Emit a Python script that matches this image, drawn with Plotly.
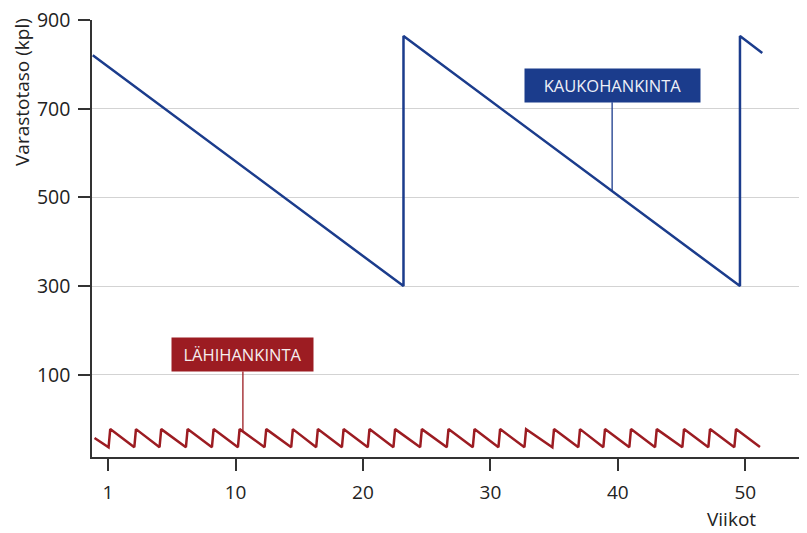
import plotly.graph_objects as go

# Blue series (long-distance sourcing) vertices: weeks and stock level
kauko_x = [-1.2, 23.18, 23.18, 49.58, 49.58, 51.33]
kauko_y = [821, 300, 864, 300, 864, 826]

# Red series (local sourcing) sawtooth: low points (week) and peaks just after
lahi_low_x = [0.04, 2.06, 4.04, 6.11, 8.15, 10.19, 12.28, 14.37, 16.33, 18.35,
              20.38, 22.39, 24.49, 26.58, 28.62, 30.63, 32.67, 34.86, 36.9, 38.86,
              40.9, 42.92, 45.06, 47.1, 49.14]
lahi_high_x = [0.17, 2.19, 4.17, 6.24, 8.28, 10.32, 12.41, 14.5, 16.46, 18.48,
               20.51, 22.52, 24.62, 26.71, 28.75, 30.76, 32.8, 34.99, 37.03, 38.99,
               41.03, 43.05, 45.19, 47.23, 49.27]
lahi_low = -63.5
lahi_high = -22.6
lahi_start = (-1.06, -42.7)
lahi_end = (51.15, -62.7)

x_tickvals = [0, 10, 20, 30, 40, 50]
x_ticktext = ["1", "10", "20", "30", "40", "50"]
y_tickvals = [100, 300, 500, 700, 900]

BLUE = "#1b3c8c"
RED = "#9c1c22"
FONT = "Open Sans"

lx = [lahi_start[0]]
ly = [lahi_start[1]]
for a, b in zip(lahi_low_x, lahi_high_x):
    lx += [a, b]
    ly += [lahi_low, lahi_high]
lx.append(lahi_end[0])
ly.append(lahi_end[1])

fig = go.Figure()
fig.add_trace(go.Scatter(x=kauko_x, y=kauko_y, mode="lines",
                         line=dict(color=BLUE, width=2.5), hoverinfo="skip"))
fig.add_trace(go.Scatter(x=lx, y=ly, mode="lines",
                         line=dict(color=RED, width=2.5), hoverinfo="skip"))

# page has an 8px body margin, so the figure is made 8px smaller
TOP = 20   # page y of plot top
BOT = 457  # page y of plot bottom
LEFT = 92
W = 715
fig.update_layout(
    width=799, height=525,
    margin=dict(l=84, r=0, t=TOP - 8, b=533 - BOT),
    paper_bgcolor="white", plot_bgcolor="white",
    showlegend=False,
    font=dict(family=FONT, size=18, color="#222222"),
    xaxis=dict(range=[-1.26, 54.84], tickvals=x_tickvals, ticktext=x_ticktext,
               showgrid=False, zeroline=False, showline=True, linecolor="#333333",
               linewidth=1.5, ticks="outside", ticklen=12, tickwidth=1.5,
               tickcolor="#333333", ticklabelstandoff=5, automargin=False,
               tickfont=dict(family=FONT, size=19, color="#222222")),
    yaxis=dict(range=[-85.5, 900.3], tickvals=y_tickvals,
               showgrid=True, gridcolor="#d3d3d3", gridwidth=1.2, zeroline=False,
               showline=True, linecolor="#333333", linewidth=1.5,
               ticks="outside", ticklen=12, tickwidth=1.5, tickcolor="#333333",
               ticklabelstandoff=4, ticklabeloverflow="allow", automargin=False,
               tickfont=dict(family=FONT, size=19.5, color="#222222")),
)

H = BOT - TOP

fig.add_annotation(x=39.55, y=514, xref="x", yref="y", ax=0, ay=-106,
                   text="KAUKOHANKINTA", showarrow=True, arrowhead=0,
                   arrowcolor=BLUE, arrowwidth=1.3, bgcolor=BLUE,
                   width=175, height=33, borderpad=0,
                   font=dict(family=FONT, size=16.5, color="#eef0f8"))
fig.add_annotation(x=10.58, y=-28, xref="x", yref="y", ax=0, ay=-77,
                   text="LÄHIHANKINTA", showarrow=True, arrowhead=0,
                   arrowcolor=RED, arrowwidth=1.3, bgcolor=RED,
                   width=141, height=33, borderpad=0,
                   font=dict(family=FONT, size=16.5, color="#f6eeee"))

fig.add_annotation(xref="paper", yref="paper",
                   x=(22 - LEFT) / W, y=1 - (92 - TOP) / H,
                   xanchor="center", yanchor="middle",
                   text="Varastotaso (kpl)", showarrow=False, textangle=-90,
                   font=dict(family=FONT, size=19, color="#222222"))
fig.add_annotation(xref="paper", yref="paper", x=(731 - LEFT) / W,
                   y=1 - (519 - TOP) / H, text="Viikot", showarrow=False,
                   xanchor="center", yanchor="middle",
                   font=dict(family=FONT, size=19, color="#222222"))

fig.write_html("out.html")
